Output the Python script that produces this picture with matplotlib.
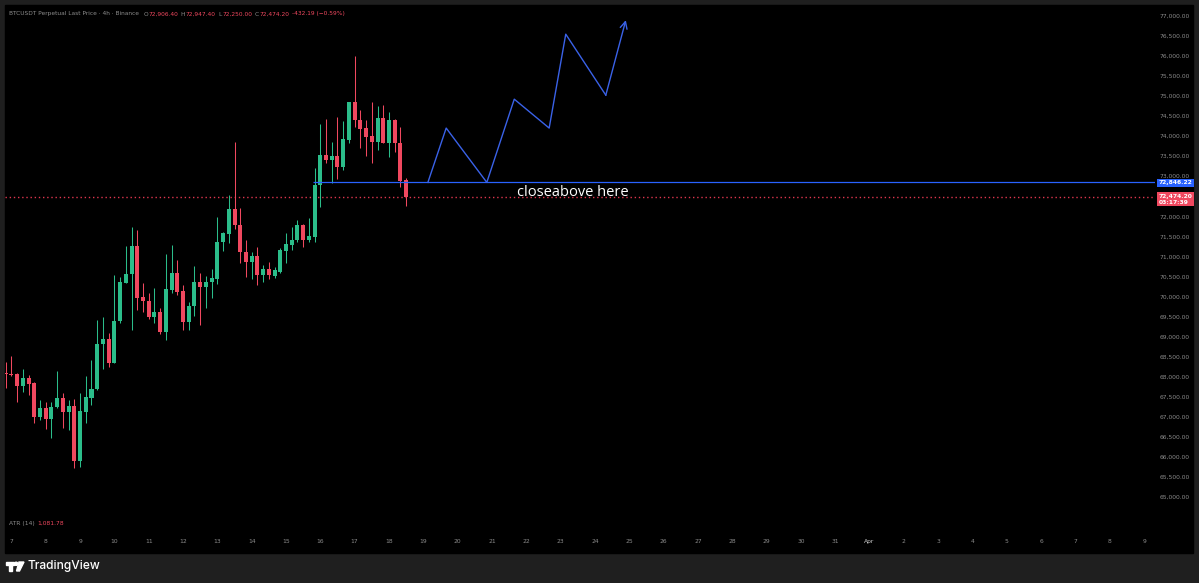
import matplotlib.pyplot as plt
from matplotlib.patches import Rectangle, Polygon, Circle
from matplotlib.transforms import blended_transform_factory, IdentityTransform
from matplotlib.ticker import FuncFormatter

# BTCUSDT perpetual, 4h candles from Mar 6 20:00 to Mar 18 16:00
opens = [68090, 68060, 68060, 67770, 67960, 67840, 67010, 67220, 66940, 67240,
         67480, 67130, 67280, 65910, 67130, 67480, 67700, 68810, 68940, 68350,
         69380, 70350, 70560, 71270, 69980, 69880, 69480, 69610, 69110, 70160,
         70580, 70140, 69360, 69770, 70360, 70250, 70360, 70450, 71350, 71560,
         72180, 71780, 71120, 70870, 71010, 70540, 70680, 70520, 70620, 71140,
         71290, 71410, 71780, 71410, 71490, 72780, 73530, 73400, 73500, 73220,
         73900, 74840, 74400, 74190, 73990, 73850, 74450, 73840, 74400, 73820,
         72906.4]
highs = [68370, 68520, 68100, 68200, 68050, 67880, 67420, 67380, 67380, 68150,
         67600, 67420, 67450, 67610, 68020, 68420, 69420, 69480, 69090, 70540,
         70500, 71260, 71740, 71660, 70350, 70100, 70220, 69710, 71050, 71290,
         70910, 70290, 69870, 70760, 70600, 70510, 70700, 71980, 71620, 72530,
         73860, 72200, 71410, 71120, 71240, 70790, 70870, 70750, 71200, 71590,
         71740, 71910, 71800, 71950, 73200, 74300, 74430, 73860, 74480, 74380,
         74860, 76000, 74650, 74400, 74840, 74750, 74780, 74610, 74420, 74220,
         72947.4]
lows = [67720, 68030, 67380, 67630, 67550, 66840, 66920, 66690, 66470, 67220,
        66730, 66680, 65720, 65760, 66840, 67300, 67670, 68200, 68250, 68340,
        69340, 70330, 69170, 69670, 69620, 69430, 69340, 69080, 68920, 70080,
        70040, 69170, 69170, 69520, 69290, 69720, 69960, 70310, 71140, 71330,
        71680, 70830, 70500, 70430, 70290, 70360, 70440, 70460, 70580, 70830,
        71160, 71370, 71230, 71370, 71370, 72240, 73320, 72820, 72920, 73160,
        73820, 74220, 73710, 73500, 73320, 73650, 73820, 73470, 73610, 72720,
        72250]
closes = [68060, 68050, 67770, 67960, 67810, 67010, 67220, 66940, 67260, 67480,
          67130, 67280, 65910, 67150, 67490, 67710, 68820, 68940, 68350, 69380,
          70360, 70560, 71270, 69970, 69880, 69480, 69610, 69110, 70180, 70580,
          70110, 69360, 69770, 70360, 70250, 70370, 70460, 71350, 71580, 72180,
          71780, 71120, 70870, 71010, 70540, 70680, 70540, 70660, 71160, 71300,
          71410, 71780, 71410, 71510, 72780, 73530, 73400, 73500, 73220, 73920,
          74840, 74400, 74180, 73970, 73850, 74450, 73840, 74400, 73820, 72880,
          72474.2]

day_labels = [str(d) for d in range(7, 32)] + ['Apr'] + [str(d) for d in range(2, 10)]
first_day_bar = 1          # bar index of Mar 7 00:00
bars_per_day = 6

level_price = 72846.22
last_price = 72474.20
level_start = 53.7

# hand-drawn projection (bar index, price)
path_x = [73.8, 77.0, 84.1, 88.9, 95.0, 97.9, 104.9, 108.4]
path_y = [72846, 74200, 72846, 74920, 74200, 76540, 75020, 76890]

UP = '#2bbd8a'
DOWN = '#f0485f'
GREY = '#8c8c8c'
BLUE = '#2962ff'

plt.rcParams['font.family'] = ['DejaVu Sans']

W, H = 1199, 583
fig = plt.figure(figsize=(W / 100, H / 100), dpi=100, facecolor='#1f1f1f')

# black chart panel (behind the axes)
fig.patches.append(Rectangle((5 / W, 30 / H), 1188 / W, 548 / H,
                             transform=fig.transFigure, color='#000000', zorder=-10))

ax = fig.add_axes([5 / W, 50 / H, 1150 / W, 528 / H])
ax.set_zorder(2)
ax.set_facecolor('#000000')
for s in ax.spines.values():
    s.set_visible(False)

# candles
idx = list(range(len(opens)))
colors = [UP if c >= o else DOWN for o, c in zip(opens, closes)]
ax.vlines(idx, lows, highs, colors=colors, linewidth=0.75, zorder=2)
bottoms = [min(o, c) for o, c in zip(opens, closes)]
heights = [max(abs(c - o), 18) for o, c in zip(opens, closes)]
ax.bar(idx, heights, bottom=bottoms, width=0.7, color=colors, linewidth=0, zorder=3)

ax.set_xlim(-0.12, 200.9)
ax.set_ylim(64109, 77267)

# level line and last price line
ax.hlines(level_price, level_start, 200.9, color=BLUE, linewidth=0.9, zorder=4)
ax.axhline(last_price, color='#e0364f', linewidth=1.0, linestyle=(0, (1, 2)), zorder=1)

# projection path
ax.plot(path_x[:-1], path_y[:-1], color='#3a62e8', linewidth=1.0, zorder=4)
ax.annotate('', xy=(path_x[-1], path_y[-1]), xytext=(path_x[-2], path_y[-2]),
            arrowprops=dict(arrowstyle='->,head_length=0.5,head_width=0.25',
                            color='#3a62e8', lw=1.0, shrinkA=0, shrinkB=0), zorder=4)

ax.text(89.4, 72590, 'closeabove here', color='white', fontsize=10.5,
        family=['Open Sans', 'DejaVu Sans'], va='center', ha='left', zorder=5)

# axes ticks (72,500 sits under the last-price tag, as on the scale)
ax.yaxis.tick_right()
ax.set_yticks(range(65000, 77001, 500))
ax.yaxis.set_major_formatter(FuncFormatter(lambda v, p: '' if v == 72500 else f'{v:,.2f}'))
ax.tick_params(axis='y', length=0, pad=3.6, labelsize=4.3, labelcolor=GREY)

ax.set_xticks([first_day_bar + bars_per_day * k for k in range(len(day_labels))])
ax.set_xticklabels(day_labels)
ax.tick_params(axis='x', length=0, pad=4.5, labelsize=4.3, labelcolor=GREY)
for t in ax.get_xticklabels():
    if t.get_text() == 'Apr':
        t.set_color('#cfcfcf')

# price labels on the scale
ytr = blended_transform_factory(ax.transAxes, ax.transData)
ax.annotate(f'{level_price:,.2f}', xy=(1.0, level_price), xycoords=ytr,
            xytext=(2.6, -0.3), textcoords='offset points', ha='left', va='center',
            fontsize=4.3, color='white', fontweight='bold', annotation_clip=False,
            bbox=dict(boxstyle='square,pad=0.22', fc=BLUE, ec='none'), zorder=6)
ax.annotate(f'{last_price:,.2f}\n03:17:39', xy=(1.0, last_price), xycoords=ytr,
            xytext=(2.6, 2.6), textcoords='offset points', ha='left', va='top',
            fontsize=4.3, color='white', fontweight='bold', linespacing=1.25,
            annotation_clip=False,
            bbox=dict(boxstyle='square,pad=0.25', fc=DOWN, ec='none'), zorder=6)

# header legend
parts = [('BTCUSDT Perpetual Last Price · 4h · Binance', GREY, 0),
         ('O', GREY, 3.0), ('72,906.40', DOWN, 0.3),
         ('H', GREY, 2.0), ('72,947.40', DOWN, 0.3),
         ('L', GREY, 2.0), ('72,250.00', DOWN, 0.3),
         ('C', GREY, 2.0), ('72,474.20', DOWN, 0.3),
         ('-432.19 (−0.59%)', DOWN, 2.0)]
prev = fig.text(9 / W, 1 - 14 / H, parts[0][0], color=parts[0][1], fontsize=4.2, va='center')
for txt, col, gap in parts[1:]:
    prev = ax.annotate(txt, xy=(1, 0), xycoords=prev, xytext=(gap, 0),
                       textcoords='offset points', ha='left', va='bottom',
                       fontsize=4.2, color=col, annotation_clip=False)

atr = fig.text(9 / W, 1 - 523 / H, 'ATR (14)', color=GREY, fontsize=4.3, va='center')
ax.annotate('1,081.78', xy=(1, 0), xycoords=atr, xytext=(2.0, 0),
            textcoords='offset points', ha='left', va='bottom', fontsize=4.3,
            color=DOWN, annotation_clip=False)

# TradingView logo
px = IdentityTransform()
fig.patches.append(Polygon([(6, 21), (14, 21), (14, 18), (12, 18), (12, 12), (9, 12),
                            (9, 18), (6, 18)], closed=True, transform=px,
                           color='white', zorder=5))
fig.patches.append(Circle((16.2, 19.2), 1.6, transform=px, color='white', zorder=5))
fig.patches.append(Polygon([(19, 21), (24, 21), (19.5, 12), (16.5, 12)], closed=True,
                           transform=px, color='white', zorder=5))
fig.text(27 / W, 16.5 / H, 'TradingView', color='white', fontsize=8.6,
         family=['Inter', 'DejaVu Sans'], fontweight='medium', va='center')

fig.savefig('out.png', dpi=100, facecolor=fig.get_facecolor())
